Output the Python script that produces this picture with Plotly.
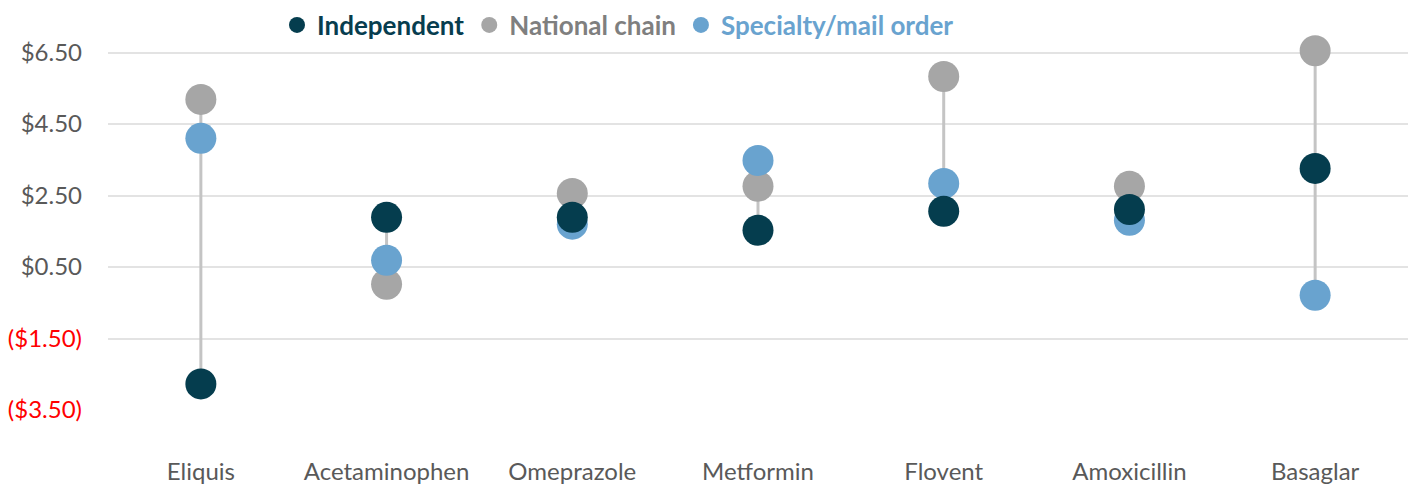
import plotly.graph_objects as go

drugs = ["Eliquis", "Acetaminophen", "Omeprazole", "Metformin", "Flovent", "Amoxicillin", "Basaglar"]
independent = [-2.77, 1.89, 1.89, 1.53, 2.06, 2.11, 3.26]
national = [5.19, 0.02, 2.56, 2.76, 5.83, 2.76, 6.55]
specialty = [4.10, 0.69, 1.70, 3.48, 2.84, 1.81, -0.29]

tick_vals = [6.5, 4.5, 2.5, 0.5, -1.5, -3.5]
tick_text = ["$6.50", "$4.50", "$2.50", "$0.50",
             "<span style='color:#ff0000'>($1.50)</span>",
             "<span style='color:#ff0000'>($3.50)</span>"]

# range line from lowest to highest value per drug
lx, ly = [], []
for i, d in enumerate(drugs):
    vals = [independent[i], national[i], specialty[i]]
    lx += [d, d, None]
    ly += [min(vals), max(vals), None]

fig = go.Figure()
fig.add_trace(go.Scatter(x=lx, y=ly, mode="lines", line=dict(color="#c4c4c4", width=3),
                         showlegend=False, hoverinfo="skip", cliponaxis=False))

fig.add_trace(go.Scatter(x=drugs, y=national, mode="markers",
                         name="<b><span style='color:#7f7f7f'>National chain</span></b>",
                         marker=dict(size=31, color="#a6a6a6"), cliponaxis=False, legendrank=2))
fig.add_trace(go.Scatter(x=drugs, y=specialty, mode="markers",
                         name="<b><span style='color:#69a3cf'>Specialty/mail order</span></b>",
                         marker=dict(size=31, color="#69a3cf"), cliponaxis=False, legendrank=3))
fig.add_trace(go.Scatter(x=drugs, y=independent, mode="markers",
                         name="<b><span style='color:#073d4f'>Independent</span></b>",
                         marker=dict(size=31, color="#053d4e"), cliponaxis=False, legendrank=1))

fig.update_layout(
    width=1413, height=485,
    margin=dict(l=108, r=5, t=49, b=75),
    plot_bgcolor="white", paper_bgcolor="white",
    font=dict(family="Lato", size=24, color="#595959"),
    legend=dict(orientation="h", x=277 / 1413, xref="container", xanchor="left",
                yref="container", y=1 - 25 / 485, yanchor="middle",
                font=dict(size=26), itemsizing="trace", traceorder="normal",
                tracegroupgap=0),
    xaxis=dict(range=[-0.5, 6.5], showgrid=False, zeroline=False, showline=False,
               ticks="", ticklabelstandoff=45, automargin=False),
    yaxis=dict(range=[-3.5, 6.6], tickvals=tick_vals, ticktext=tick_text,
               showgrid=True, gridcolor="#e3e3e3", gridwidth=2, zeroline=False,
               showline=False, ticks="", ticklabelstandoff=25, automargin=False),
)

fig.write_html("out.html", config={"displayModeBar": False},
               post_script="document.body.style.margin='0';")
